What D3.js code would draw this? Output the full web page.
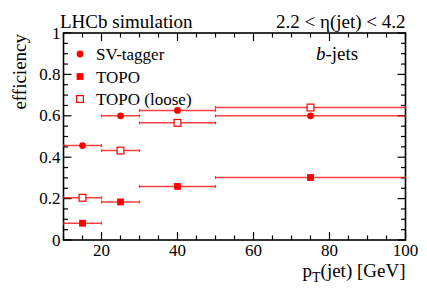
<!DOCTYPE html>
<html>
<head>
<meta charset="utf-8">
<script src="https://cdn.jsdelivr.net/npm/d3@7"></script>
<style>
  body { margin: 0; background: #fff; }
</style>
</head>
<body>
<div id="chart"></div>
<script>
// bins in pT(jet) [GeV]
var binLo = [10, 20, 30, 50]
var binHi = [20, 30, 50, 100]
var binCenter = [15, 25, 40, 75]

// efficiencies
var svTagger = [0.456, 0.600, 0.626, 0.600]
var topo = [0.081, 0.184, 0.259, 0.302]
var topoLoose = [0.204, 0.432, 0.566, 0.640]

var legendLabels = ["SV-tagger", "TOPO", "TOPO (loose)"]
var xTicks = [20, 40, 60, 80, 100]
var yTicks = [0, 0.2, 0.4, 0.6, 0.8, 1]

var W = 427, H = 290
var margin = { top: 33, right: 21.5, bottom: 50, left: 63.5 },
    width = W - margin.left - margin.right,
    height = H - margin.top - margin.bottom

var red = "#ff0000"
var serif = "'Liberation Serif', 'Times New Roman', Times, 'DejaVu Serif', serif"

var svg = d3.select("#chart")
  .append("svg")
    .attr("width", W)
    .attr("height", H)
    .attr("font-family", serif)

var g = svg.append("g")
    .attr("transform", "translate(" + margin.left + "," + margin.top + ")")

var x = d3.scaleLinear().domain([10, 100]).range([0, width])
var y = d3.scaleLinear().domain([0, 1]).range([height, 0])

// frame
g.append("rect")
  .attr("width", width)
  .attr("height", height)
  .attr("fill", "none")
  .attr("stroke", "#000")
  .attr("stroke-width", 1.6)

// minor + major ticks, pointing inwards
var xMinor = d3.range(10, 100.01, 5)
var yMinor = d3.range(0, 1.001, 0.05)
function isMajorX(v) { return Math.abs(v % 20) < 1e-6 }
function isMajorY(v) { return Math.abs(Math.round(v * 100) % 20) < 1e-6 }

var ticks = g.append("g").attr("stroke", "#000").attr("stroke-width", 1.2)
xMinor.forEach(function (v) {
  var len = isMajorX(v) ? 8 : 4.5
  ticks.append("line").attr("x1", x(v)).attr("x2", x(v)).attr("y1", height).attr("y2", height - len)
  ticks.append("line").attr("x1", x(v)).attr("x2", x(v)).attr("y1", 0).attr("y2", len)
})
yMinor.forEach(function (v) {
  var len = isMajorY(v) ? 8 : 4.5
  ticks.append("line").attr("x1", 0).attr("x2", len).attr("y1", y(v)).attr("y2", y(v))
  ticks.append("line").attr("x1", width).attr("x2", width - len).attr("y1", y(v)).attr("y2", y(v))
})

// tick labels
g.selectAll(".xl")
  .data(xTicks)
  .enter()
  .append("text")
    .attr("x", function (d) { return x(d) })
    .attr("y", height + 15.5)
    .attr("text-anchor", "middle")
    .style("font-size", "17px")
    .text(function (d) { return d })

g.selectAll(".yl")
  .data(yTicks)
  .enter()
  .append("text")
    .attr("x", -3)
    .attr("y", function (d) { return y(d) + 5.5 })
    .attr("text-anchor", "end")
    .style("font-size", "17px")
    .text(function (d) { return d })

// x axis title: p_T(jet) [GeV], right aligned
var xtRest = svg.append("text")
  .attr("x", margin.left + width)
  .attr("y", 277)
  .attr("text-anchor", "end")
  .style("font-size", "19px")
  .text("(jet) [GeV]")
var restW = xtRest.node().getComputedTextLength()
var xtSub = svg.append("text")
  .attr("x", margin.left + width - restW)
  .attr("y", 282)
  .attr("text-anchor", "end")
  .style("font-size", "14px")
  .text("T")
var subW = xtSub.node().getComputedTextLength()
svg.append("text")
  .attr("x", margin.left + width - restW - subW)
  .attr("y", 277)
  .attr("text-anchor", "end")
  .style("font-size", "19px")
  .text("p")

svg.append("text")
  .attr("transform", "translate(26," + (margin.top + 1) + ") rotate(-90)")
  .attr("text-anchor", "end")
  .style("font-size", "19px")
  .text("efficiency")

// labels above the frame
svg.append("text")
  .attr("x", 60)
  .attr("y", 27.5)
  .style("font-size", "19px")
  .text("LHCb simulation")

svg.append("text")
  .attr("x", margin.left + width)
  .attr("y", 27.5)
  .attr("text-anchor", "end")
  .style("font-size", "19px")
  .text("2.2 < \u03b7(jet) < 4.2")

var bj = svg.append("text")
  .attr("x", 316)
  .attr("y", 60)
  .style("font-size", "19px")
bj.append("tspan").style("font-style", "italic").text("b")
bj.append("tspan").text("-jets")

// data series
var series = [
  { name: legendLabels[0], values: svTagger, shape: "circle", open: false },
  { name: legendLabels[1], values: topo, shape: "square", open: false },
  { name: legendLabels[2], values: topoLoose, shape: "square", open: true }
]

function drawMarker(sel, shape, open, cx, cy) {
  if (shape === "circle") {
    sel.append("circle")
      .attr("cx", cx).attr("cy", cy).attr("r", 3.4)
      .attr("fill", red)
  } else {
    sel.append("rect")
      .attr("x", cx - 3.4).attr("y", cy - 3.4)
      .attr("width", 6.8).attr("height", 6.8)
      .attr("fill", open ? "#fff" : red)
      .attr("stroke", red)
      .attr("stroke-width", open ? 1.2 : 0)
  }
}

var plot = g.append("g")
series.forEach(function (s) {
  var sg = plot.append("g")
  s.values.forEach(function (v, i) {
    sg.append("line")
      .attr("x1", x(binLo[i])).attr("x2", x(binHi[i]))
      .attr("y1", y(v)).attr("y2", y(v))
      .attr("stroke", red).attr("stroke-opacity", 0.75).attr("stroke-width", 1.5)
    ;[binLo[i], binHi[i]].forEach(function (e) {
      sg.append("line")
        .attr("x1", x(e)).attr("x2", x(e))
        .attr("y1", y(v) - 1.5).attr("y2", y(v) + 1.5)
        .attr("stroke", red).attr("stroke-opacity", 0.75).attr("stroke-width", 1.2)
    })
    drawMarker(sg, s.shape, s.open, x(binCenter[i]), y(v))
  })
})

// legend
var legend = svg.append("g")
series.forEach(function (s, i) {
  var ly = 54 + i * 22.5
  drawMarker(legend, s.shape, s.open, 80, ly)
  legend.append("text")
    .attr("x", 96)
    .attr("y", ly + 6)
    .style("font-size", "17px")
    .text(s.name)
})
</script>
</body>
</html>
